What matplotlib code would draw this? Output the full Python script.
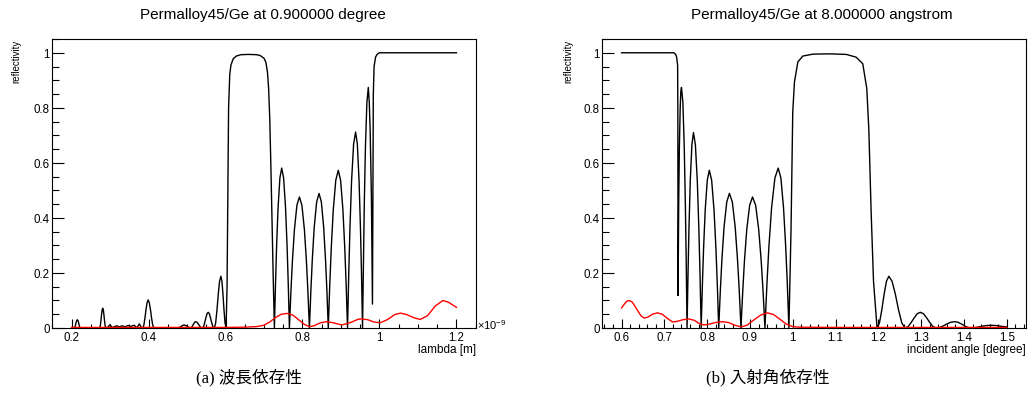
import numpy as np
import matplotlib
matplotlib.use("Agg")
import matplotlib.pyplot as plt
from matplotlib.ticker import MultipleLocator, FuncFormatter

# ---------------- data ----------------
# (a) wavelength dependence at 0.9 degree; wavelength in units of 1e-9 m
lambda_black = [
    (0.200, 0.000),
    (0.207, 0.000), (0.2086, 0.003), (0.2102, 0.010), (0.2118, 0.020), (0.2134, 0.027), (0.215, 0.030),
    (0.2166, 0.027), (0.2182, 0.020), (0.2198, 0.010), (0.2214, 0.003), (0.223, 0.000),
    (0.273, 0.000), (0.2746, 0.007), (0.2762, 0.025), (0.2778, 0.047), (0.2794, 0.065), (0.281, 0.072),
    (0.2826, 0.065), (0.2842, 0.047), (0.2858, 0.025), (0.2874, 0.007), (0.289, 0.000),
    (0.292, 0.000), (0.296, 0.006), (0.300, 0.012), (0.304, 0.004), (0.308, 0.002), (0.313, 0.006),
    (0.318, 0.008), (0.323, 0.004), (0.328, 0.006), (0.333, 0.008), (0.338, 0.004), (0.343, 0.007),
    (0.348, 0.009), (0.353, 0.005), (0.358, 0.008), (0.363, 0.010), (0.367, 0.004), (0.370, 0.000),
    (0.373, 0.008), (0.376, 0.015), (0.379, 0.008), (0.382, 0.001),
    (0.385, 0.000), (0.3878, 0.010), (0.3906, 0.035), (0.3934, 0.067), (0.3962, 0.092), (0.399, 0.102),
    (0.402, 0.092), (0.405, 0.067), (0.408, 0.035), (0.411, 0.010), (0.414, 0.000),
    (0.478, 0.000), (0.484, 0.005), (0.488, 0.009), (0.492, 0.011), (0.497, 0.009), (0.503, 0.004),
    (0.509, 0.000), (0.5117, 0.002), (0.5144, 0.008), (0.5171, 0.015), (0.5198, 0.021), (0.5225, 0.023),
    (0.5258, 0.021), (0.5291, 0.015), (0.5324, 0.008), (0.5357, 0.002), (0.539, 0.000),
    (0.540, 0.000), (0.543, 0.005), (0.546, 0.020), (0.549, 0.037), (0.552, 0.052), (0.555, 0.057),
    (0.558, 0.052), (0.561, 0.037), (0.564, 0.020), (0.567, 0.005), (0.570, 0.000),
    (0.571, 0.000), (0.5744, 0.018), (0.5778, 0.065), (0.5812, 0.123), (0.5846, 0.170), (0.588, 0.188),
    (0.5907, 0.170), (0.5934, 0.123), (0.5961, 0.065), (0.5988, 0.018), (0.6015, 0.000),
    (0.604, 0.15), (0.606, 0.50), (0.608, 0.80), (0.611, 0.92), (0.614, 0.955), (0.620, 0.978),
    (0.628, 0.988), (0.640, 0.993), (0.660, 0.994), (0.680, 0.993), (0.690, 0.990), (0.700, 0.980),
    (0.705, 0.965), (0.709, 0.93), (0.712, 0.87), (0.715, 0.76), (0.718, 0.58), (0.721, 0.38),
    (0.724, 0.18), (0.727, 0.000),
    (0.7299, 0.161), (0.7327, 0.296), (0.7365, 0.436), (0.7413, 0.545), (0.746, 0.581), (0.751, 0.545),
    (0.756, 0.436), (0.760, 0.296), (0.763, 0.161), (0.766, 0.000),
    (0.7699, 0.132), (0.7738, 0.243), (0.779, 0.357), (0.7855, 0.446), (0.792, 0.476), (0.7985, 0.446),
    (0.805, 0.357), (0.8102, 0.243), (0.8141, 0.132), (0.818, 0.000),
    (0.8218, 0.136), (0.8255, 0.249), (0.8305, 0.367), (0.8368, 0.458), (0.843, 0.489), (0.849, 0.458),
    (0.855, 0.367), (0.8598, 0.249), (0.8634, 0.136), (0.867, 0.000),
    (0.8709, 0.159), (0.8748, 0.292), (0.880, 0.430), (0.8865, 0.537), (0.893, 0.573), (0.899, 0.537),
    (0.905, 0.430), (0.9098, 0.292), (0.9134, 0.159), (0.917, 0.000),
    (0.9202, 0.198), (0.9233, 0.363), (0.9275, 0.534), (0.9328, 0.668), (0.938, 0.712), (0.9425, 0.668),
    (0.947, 0.534), (0.9506, 0.363), (0.9533, 0.198), (0.956, 0.000),
    (0.9583, 0.243), (0.9605, 0.446), (0.9635, 0.656), (0.9673, 0.819), (0.971, 0.874), (0.9735, 0.820),
    (0.9757, 0.724), (0.979, 0.480), (0.9818, 0.087),
    (0.983, 0.50), (0.984, 0.85), (0.986, 0.95), (0.990, 0.985), (0.995, 0.996), (1.000, 1.000),
    (1.200, 1.000),
]
lambda_red = [
    (0.200, 0.002), (0.300, 0.002), (0.400, 0.002), (0.500, 0.002), (0.600, 0.002), (0.650, 0.003),
    (0.680, 0.005), (0.700, 0.010), (0.715, 0.022), (0.730, 0.038), (0.745, 0.050), (0.760, 0.053),
    (0.775, 0.047), (0.790, 0.030), (0.805, 0.013), (0.818, 0.005), (0.830, 0.008), (0.845, 0.018),
    (0.862, 0.023), (0.880, 0.019), (0.902, 0.011), (0.925, 0.020), (0.945, 0.032), (0.955, 0.033),
    (0.970, 0.030), (0.985, 0.022), (1.002, 0.019), (1.020, 0.030), (1.040, 0.049), (1.055, 0.054),
    (1.070, 0.049), (1.090, 0.037), (1.106, 0.031), (1.125, 0.045), (1.145, 0.080), (1.165, 0.100),
    (1.180, 0.093), (1.200, 0.075),
]

# (b) incident-angle dependence at 8 angstrom; angle in degree
theta_black = [
    (0.600, 1.000), (0.700, 1.000), (0.722, 1.000), (0.726, 0.995), (0.7286, 0.985), (0.731, 0.955),
    (0.7315, 0.80), (0.732, 0.118),
    (0.7335, 0.45), (0.735, 0.65), (0.737, 0.80), (0.7385, 0.86), (0.740, 0.874), (0.7433, 0.819),
    (0.7465, 0.656), (0.7491, 0.446), (0.7511, 0.243), (0.753, 0.000),
    (0.7553, 0.197), (0.7575, 0.362), (0.7605, 0.533), (0.7643, 0.666), (0.768, 0.710), (0.7725, 0.666),
    (0.777, 0.533), (0.7806, 0.362), (0.7833, 0.197), (0.786, 0.000),
    (0.7889, 0.159), (0.7917, 0.292), (0.7955, 0.430), (0.8003, 0.537), (0.805, 0.573), (0.8105, 0.537),
    (0.816, 0.430), (0.8204, 0.292), (0.8237, 0.159), (0.827, 0.000),
    (0.8308, 0.136), (0.8345, 0.249), (0.8395, 0.367), (0.8458, 0.458), (0.852, 0.489), (0.8588, 0.458),
    (0.8655, 0.367), (0.8709, 0.249), (0.875, 0.136), (0.879, 0.000),
    (0.8831, 0.132), (0.8871, 0.243), (0.8925, 0.357), (0.8993, 0.446), (0.906, 0.476), (0.9133, 0.446),
    (0.9205, 0.357), (0.9263, 0.243), (0.9307, 0.132), (0.935, 0.000),
    (0.9397, 0.161), (0.9443, 0.296), (0.9505, 0.436), (0.9583, 0.545), (0.966, 0.581), (0.9723, 0.545),
    (0.9785, 0.436), (0.9835, 0.296), (0.9873, 0.161), (0.991, 0.000),
    (0.996, 0.36), (1.000, 0.785), (1.004, 0.894), (1.012, 0.967), (1.0235, 0.988), (1.047, 0.995),
    (1.086, 0.996), (1.125, 0.994), (1.148, 0.984), (1.1636, 0.96), (1.173, 0.87), (1.1777, 0.724),
    (1.1832, 0.42), (1.1887, 0.17), (1.197, 0.000),
    (1.2025, 0.018), (1.208, 0.065), (1.2135, 0.123), (1.219, 0.170), (1.2245, 0.188), (1.232, 0.170),
    (1.2397, 0.123), (1.2473, 0.065), (1.2549, 0.018), (1.2625, 0.000),
    (1.2696, 0.005), (1.2767, 0.020), (1.2838, 0.037), (1.2909, 0.052), (1.298, 0.057), (1.3054, 0.052),
    (1.3128, 0.037), (1.3202, 0.020), (1.3276, 0.005), (1.335, 0.000),
    (1.3436, 0.002), (1.3522, 0.008), (1.3608, 0.015), (1.3694, 0.021), (1.378, 0.023), (1.3858, 0.021),
    (1.3936, 0.015), (1.4014, 0.008), (1.4092, 0.002), (1.417, 0.000),
    (1.425, 0.001), (1.435, 0.004), (1.448, 0.008), (1.462, 0.010), (1.475, 0.009), (1.488, 0.006),
    (1.500, 0.004),
]
theta_red = [
    (0.600, 0.073), (0.607, 0.088), (0.613, 0.098), (0.618, 0.100), (0.625, 0.094), (0.635, 0.070),
    (0.645, 0.045), (0.653, 0.036), (0.662, 0.040), (0.672, 0.050), (0.684, 0.055), (0.695, 0.050),
    (0.707, 0.035), (0.719, 0.022), (0.730, 0.024), (0.743, 0.030), (0.757, 0.033), (0.770, 0.028),
    (0.782, 0.016), (0.793, 0.011), (0.805, 0.014), (0.820, 0.020), (0.836, 0.023), (0.850, 0.020),
    (0.865, 0.010), (0.879, 0.004), (0.893, 0.010), (0.908, 0.028), (0.925, 0.047), (0.941, 0.055),
    (0.955, 0.049), (0.970, 0.032), (0.985, 0.014), (1.000, 0.005), (1.015, 0.003), (1.100, 0.002),
    (1.200, 0.002), (1.300, 0.002), (1.400, 0.002), (1.500, 0.002),
]

titles = ["Permalloy45/Ge at 0.900000 degree", "Permalloy45/Ge at 8.000000 angstrom"]
xlabels = ["lambda [m]", "incident angle [degree]"]
ylabel = "reflectivity"
captions = ["(a) 波長依存性", "(b) 入射角依存性"]

# ---------------- figure ----------------
plt.rcParams['font.family'] = ['Liberation Sans', 'DejaVu Sans']
plt.rcParams['mathtext.fontset'] = 'custom'
plt.rcParams['mathtext.rm'] = 'Liberation Sans'
plt.rcParams['mathtext.it'] = 'Liberation Sans:italic'

W, H = 1028, 414
fig = plt.figure(figsize=(W / 100, H / 100), dpi=100)


def rect(x0, y0, x1, y1):
    return [x0 / W, 1 - y1 / H, (x1 - x0) / W, (y1 - y0) / H]


fmt = FuncFormatter(lambda v, p: f"{v:g}")


def style(ax, major_x, minor_x, lo, hi):
    span = hi - lo
    ax.set_xlim(lo - 0.05 * span, hi + 0.05 * span)
    ax.set_ylim(0, 1.05)
    ax.xaxis.set_major_locator(MultipleLocator(major_x))
    ax.xaxis.set_minor_locator(MultipleLocator(minor_x))
    ax.yaxis.set_major_locator(MultipleLocator(0.2))
    ax.yaxis.set_minor_locator(MultipleLocator(0.05))
    ax.xaxis.set_major_formatter(fmt)
    ax.yaxis.set_major_formatter(fmt)
    ax.tick_params(direction='in', top=False, right=False, width=0.8, labelsize=8.3, colors='black')
    ax.tick_params(axis='x', which='major', length=6.2, pad=2)
    ax.tick_params(axis='x', which='minor', length=3.2, width=0.8, direction='in', top=False)
    ax.tick_params(axis='y', which='major', length=8.6, pad=1.8)
    ax.tick_params(axis='y', which='minor', length=5.0, width=0.8, direction='in', right=False)
    for s in ax.spines.values():
        s.set_linewidth(0.8)


axL = fig.add_axes(rect(52.3, 40, 475.7, 329))
lb = np.array(lambda_black)
lr = np.array(lambda_red)
axL.plot(lb[:, 0], lb[:, 1], color='black', lw=1.0)
axL.plot(lr[:, 0], lr[:, 1], color='red', lw=1.0)
style(axL, 0.2, 0.05, 0.2, 1.2)

axR = fig.add_axes(rect(602.3, 40, 1026, 329))
tb = np.array(theta_black)
tr = np.array(theta_red)
axR.plot(tb[:, 0], tb[:, 1], color='black', lw=1.0)
axR.plot(tr[:, 0], tr[:, 1], color='red', lw=1.0)
style(axR, 0.1, 0.02, 0.6, 1.5)

# titles
fig.text(263 / W, 1 - 15 / H, titles[0], fontsize=11, ha='center', va='center')
fig.text(822 / W, 1 - 15 / H, titles[1], fontsize=11, ha='center', va='center')

# axis titles
fig.text(16 / W, 1 - 40 / H, ylabel, fontsize=7, rotation=90, ha='center', va='top')
fig.text(568 / W, 1 - 40 / H, ylabel, fontsize=7, rotation=90, ha='center', va='top')
fig.text(475.7 / W, 1 - 350 / H, xlabels[0], fontsize=8.5, ha='right', va='center')
fig.text(1026 / W, 1 - 350 / H, xlabels[1], fontsize=8.5, ha='right', va='center')
fig.text(477 / W, 1 - 325 / H, r'$\times10^{-9}$', fontsize=8, ha='left', va='center')

# captions
for cx, cap in zip([249, 768], captions):
    fig.text(cx / W, 1 - 378 / H, cap, fontsize=12, ha='center', va='center',
             family=['Liberation Serif', 'Noto Sans CJK JP'])

fig.savefig('out.png', dpi=100)
